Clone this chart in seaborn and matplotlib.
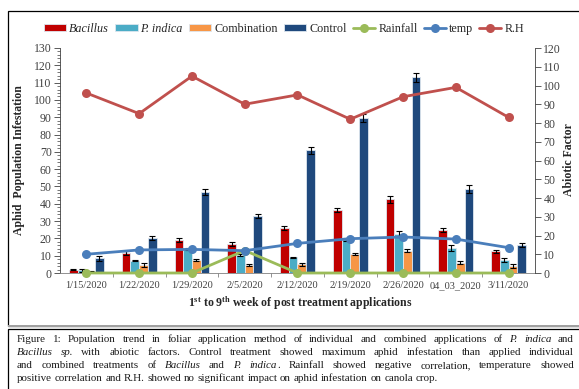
import numpy as np
import pandas as pd
import matplotlib
matplotlib.use("Agg")
import matplotlib.pyplot as plt
from matplotlib.patches import Rectangle
from matplotlib.ticker import MultipleLocator, FixedLocator
import seaborn as sns

dates = ["1/15/2020", "1/22/2020", "1/29/2020", "2/5/2020", "2/12/2020",
         "2/19/2020", "2/26/2020", "04_03_2020", "3/11/2020"]
bacillus = [2, 11.5, 19, 17, 26, 36.5, 42.5, 25, 12.5]
p_indica = [1.5, 7, 14, 10.5, 9, 19.5, 22.5, 14.5, 7.5]
combination = [0.7, 4.5, 7.5, 4.5, 5, 11, 13, 6, 4]
control = [8.5, 20, 47, 33, 71, 89.5, 113, 48.5, 16]
err_bacillus = [0.3, 1.0, 1.0, 1.2, 1.3, 1.2, 2.0, 1.2, 0.8]
err_p_indica = [0.8, 0.3, 0.5, 0.5, 0.5, 0.8, 1.5, 1.5, 1.2]
err_combination = [0.3, 1.0, 0.6, 0.7, 0.8, 0.8, 0.8, 0.8, 1.0]
err_control = [1.5, 1.2, 1.8, 1.3, 2.0, 2.2, 2.7, 2.2, 1.2]
rainfall = [0, 0, 0, 12, 0, 0, 0, 0, 0]
temp = [10, 12.3, 12.6, 11.9, 15.8, 18.3, 19.2, 18.1, 13.5]
rh = [96, 85, 105, 90, 95, 82, 94, 99, 83]

treatments = ["Bacillus", "P. indica", "Combination", "Control"]
bar_colors = ["#c00000", "#4bacc6", "#f79646", "#1f497d"]

W, H = 579, 389


def fx(x):
    return x / W


def fy(y):
    return 1 - y / H


sns.set_style("white")
plt.rcParams["font.family"] = ["Liberation Serif", "DejaVu Serif"]
plt.rcParams["mathtext.fontset"] = "custom"
plt.rcParams["mathtext.rm"] = "Liberation Serif"
plt.rcParams["mathtext.bf"] = "Liberation Serif:bold"
plt.rcParams["mathtext.it"] = "Liberation Serif:italic"

fig = plt.figure(figsize=(W / 100, H / 100), dpi=100)
ax = fig.add_axes([fx(60), fy(273), fx(535) - fx(60), fy(48) - fy(273)])

df = pd.DataFrame({
    "date": dates * 4,
    "treatment": np.repeat(treatments, len(dates)),
    "value": bacillus + p_indica + combination + control,
})
errs = [err_bacillus, err_p_indica, err_combination, err_control]

sns.barplot(data=df, x="date", y="value", hue="treatment", hue_order=treatments,
            palette=bar_colors, saturation=1, width=0.66, errorbar=None, ax=ax,
            zorder=2, edgecolor="#dde6ef", linewidth=0.6)

for cont, e in zip(ax.containers, errs):
    xs = [p.get_x() + p.get_width() / 2 for p in cont]
    hs = [p.get_height() for p in cont]
    ax.errorbar(xs, hs, yerr=e, fmt="none", ecolor="black", elinewidth=0.8,
                capsize=2.2, capthick=0.8, zorder=3)

ax.set_ylim(0, 130)
ax.set_xlim(-0.5, len(dates) - 0.5)
ax.yaxis.set_major_locator(MultipleLocator(10))
ax.yaxis.set_minor_locator(MultipleLocator(2))
ax.tick_params(axis="y", which="major", direction="out", length=4, width=0.6,
               labelsize=8.5, colors="#404040", left=True, pad=2)
ax.tick_params(axis="y", which="minor", direction="out", length=2, width=0.5,
               colors="#404040", left=True)
ax.xaxis.set_minor_locator(FixedLocator(np.arange(0.5, len(dates) - 0.5, 1)))
ax.tick_params(axis="x", which="major", length=0, labelsize=7.5,
               labelcolor="#404040", pad=6)
ax.tick_params(axis="x", which="minor", direction="out", length=3, width=0.6,
               colors="#808080", bottom=True)
for side in ["top", "right"]:
    ax.spines[side].set_visible(False)
ax.spines["left"].set_color("#404040")
ax.spines["bottom"].set_color("#808080")
ax.spines["left"].set_linewidth(0.6)
ax.spines["bottom"].set_linewidth(0.6)
ax.set_xlabel("")
ax.set_ylabel("")
bar_handles, bar_labels = ax.get_legend_handles_labels()
if ax.get_legend() is not None:
    ax.get_legend().remove()

ax2 = ax.twinx()
pos = np.arange(len(dates))
sns.lineplot(x=pos, y=rainfall, ax=ax2, color="#9bbb59", marker="o",
             markersize=6.5, markeredgewidth=0, linewidth=2, label="Rainfall",
             clip_on=False)
sns.lineplot(x=pos, y=temp, ax=ax2, color="#4a7ebb", marker="o",
             markersize=6.5, markeredgewidth=0, linewidth=2, label="temp")
sns.lineplot(x=pos, y=rh, ax=ax2, color="#c0504d", marker="o",
             markersize=6.5, markeredgewidth=0, linewidth=2, label="R.H")
ax2.set_ylim(0, 120)
ax2.set_xlim(-0.5, len(dates) - 0.5)
ax2.yaxis.set_major_locator(MultipleLocator(10))
ax2.tick_params(axis="y", which="major", direction="out", length=4, width=0.6,
                labelsize=8.5, colors="#404040", right=True, pad=2)
for side in ["top", "left", "bottom"]:
    ax2.spines[side].set_visible(False)
ax2.spines["right"].set_color("#404040")
ax2.spines["right"].set_linewidth(0.6)
line_handles, line_labels = ax2.get_legend_handles_labels()
ax2.get_legend().remove()

leg = fig.legend(bar_handles + line_handles, bar_labels + line_labels,
                 loc="center", bbox_to_anchor=(fx(284), fy(29)), ncol=7,
                 frameon=False, fontsize=8.7, handlelength=1.85,
                 handleheight=0.45, handletextpad=0.25, columnspacing=0.5)
for t in leg.get_texts():
    if t.get_text() in ("Bacillus", "P. indica"):
        t.set_style("italic")
    t.set_color("#262626")

fig.text(fx(19), fy(160), "Aphid  Population Infestation", rotation=90,
         ha="center", va="center", fontsize=8.5, fontweight="bold")
fig.text(fx(569), fy(160), "Abiotic Factor", rotation=90, ha="center",
         va="center", fontsize=8.5, fontweight="bold")
fig.text(fx(300), fy(303),
         r"1$^{\mathbf{st}}$ to 9$^{\mathbf{th}}$ week of post treatment applications",
         ha="center", va="center", fontsize=8.5, fontweight="bold")

# chart frame and caption frame
fig.patches.append(Rectangle((fx(8), fy(326)), fx(600) - fx(8), fy(11) - fy(326),
                             transform=fig.transFigure, fill=False,
                             edgecolor="black", linewidth=0.9))
fig.patches.append(Rectangle((fx(8), fy(327)), fx(600) - fx(8), 2 / H,
                             transform=fig.transFigure, facecolor="#a0a0a0",
                             edgecolor="none"))
fig.patches.append(Rectangle((fx(8), fy(400)), fx(600) - fx(8), fy(329) - fy(400),
                             transform=fig.transFigure, fill=False,
                             edgecolor="black", linewidth=0.9))

caption = [
    [("Figure 1: Population trend in foliar application method of individual and combined applications of ", False),
     ("P. indica", True), (" and", False)],
    [("Bacillus sp.", True),
     (" with abiotic factors. Control treatment showed maximum aphid infestation than applied individual", False)],
    [("and combined treatments of ", False), ("Bacillus", True), (" and ", False),
     ("P. indica", True), (". Rainfall showed negative correlation, temperature showed", False)],
    [("positive correlation and R.H. showed no significant impact on aphid infestation on canola crop.", False)],
]


def words_of(segs):
    words = []
    new_word = True
    for txt, it in segs:
        for i, p in enumerate(txt.split(" ")):
            if i > 0:
                new_word = True
            if p == "":
                continue
            if new_word or not words:
                words.append([])
                new_word = False
            words[-1].append((p, it))
    return words


renderer = fig.canvas.get_renderer()
cap_size = 7.9
x_left, x_right = 17, 574


def width_of(s, it):
    t = fig.text(0, 0, s, fontsize=cap_size, style="italic" if it else "normal")
    w = t.get_window_extent(renderer).width
    t.remove()
    return w


space_w = width_of("a b", False) - width_of("ab", False)
for li, segs in enumerate(caption):
    words = words_of(segs)
    widths = [[width_of(p, it) for p, it in w] for w in words]
    total = sum(sum(w) for w in widths)
    if li < len(caption) - 1:
        gap = (x_right - x_left - total) / (len(words) - 1)
    else:
        gap = space_w
    x = x_left
    y = 340 + li * 12.8
    for w, ws in zip(words, widths):
        for (p, it), pw in zip(w, ws):
            fig.text(fx(x), fy(y), p, fontsize=cap_size, va="center",
                     style="italic" if it else "normal", color="#1a1a1a")
            x += pw
        x += gap

fig.savefig("out.png", dpi=100)
